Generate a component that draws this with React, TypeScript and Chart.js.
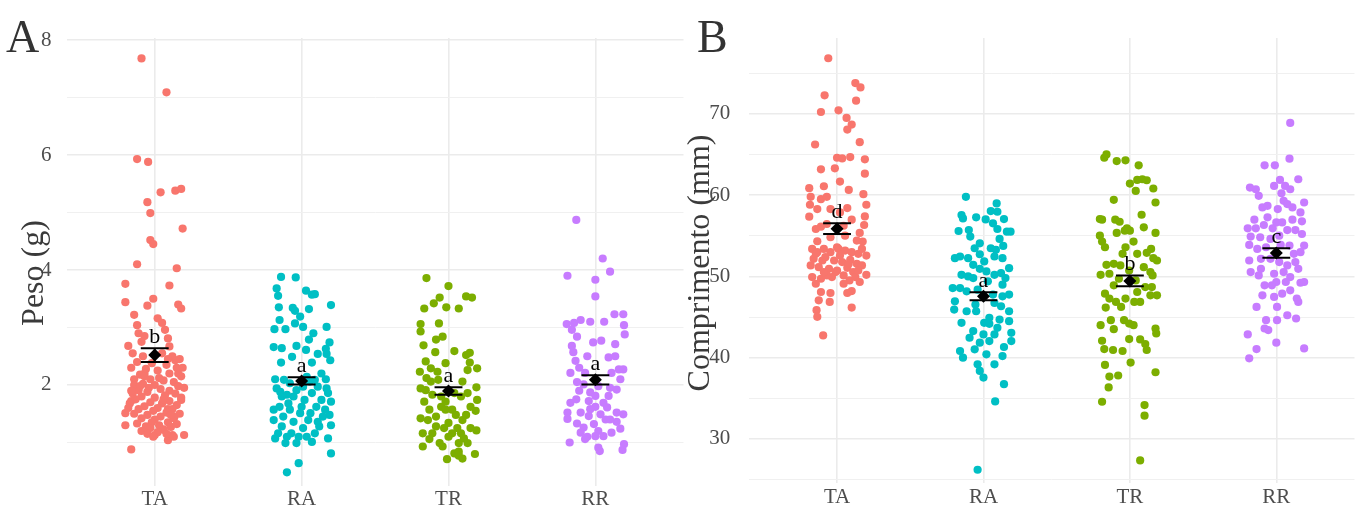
import React, { useEffect, useRef } from 'react';
import { Chart, registerables } from 'chart.js';
Chart.register(...registerables);

const FONT = "'Liberation Serif', 'Times New Roman', serif";
const CATEGORIES = ['TA', 'RA', 'TR', 'RR'];
const COLORS = ['#F8766D', '#00BFC4', '#7CAE00', '#C77CFF'];

// ---- Panel A: Peso (g) — [jitter, value]
const pesoTA = [
  [-0.09,7.68],[0.08,7.09],[-0.12,5.93],[-0.045,5.88],[0.04,5.35],[0.14,5.38],[0.18,5.41],[-0.05,5.18],[-0.03,4.99],[-0.03,4.52],
  [-0.01,4.45],[0.19,4.72],[-0.12,4.10],[0.15,4.03],[-0.2,3.76],[0.10,3.73],[-0.2,3.44],[-0.01,3.50],[-0.05,3.38],[0.16,3.40],
  [0.18,3.33],[-0.14,3.22],[-0.12,3.04],[0.02,3.16],[0.05,3.08],[-0.11,2.90],[-0.18,2.68],[-0.07,2.85],[0.07,2.96],[0.09,2.81],
  [0.10,2.67],[-0.09,2.75],[0.14,2.43],[0.16,2.20],[0.18,1.74],[-0.2,1.51],[-0.2,1.30],[-0.16,0.88],[0,1.13],[0.09,1.04],
  [0.12,1.13],[0.2,1.13],[0.06,1.23],[0.135,1.45],[0.09,1.58],[-0.16,1.72],[-0.11,1.91],[-0.07,2.20],
  [-0.15,2.55],[-0.08,2.5],[0.05,2.55],[0.12,2.5],[0.17,2.45],[-0.12,2.4],[-0.02,2.38],[0.08,2.35],[0.15,2.3],[-0.16,2.3],
  [-0.06,2.28],[0.02,2.25],[0.1,2.2],[-0.1,2.18],[0.18,2.15],[-0.14,2.1],[-0.03,2.1],[0.06,2.08],[0.13,2.05],[-0.08,2.02],
  [0.0,2.0],[0.16,1.98],[-0.12,1.95],[0.04,1.93],[0.1,1.9],[-0.05,1.88],[-0.15,1.85],[0.14,1.85],[0.07,1.82],[-0.09,1.8],
  [0.0,1.78],[0.18,1.78],[-0.13,1.75],[0.1,1.72],[-0.03,1.7],[0.05,1.68],[-0.17,1.68],[0.15,1.65],[-0.07,1.63],[0.02,1.6],
  [-0.11,1.58],[0.12,1.58],[-0.01,1.55],[0.08,1.52],[-0.14,1.5],[0.17,1.5],[-0.05,1.48],[0.04,1.45],[0.13,1.42],[-0.09,1.42],
  [0.0,1.4],[-0.02,1.35],[0.09,1.35],[-0.12,1.33],[0.15,1.32],[0.03,1.3],[-0.06,1.28],[0.11,1.27],[-0.03,1.25],[0.06,1.22],
  [-0.09,1.2],[0.02,1.18],[-0.05,1.15],[0.08,1.15],[-0.01,1.1],[0.13,1.1],[-0.14,2.0],[0.2,1.95],[-0.18,1.6],[0.19,2.3],
  [-0.07,2.15],[0.09,2.45],[-0.1,1.98],[0.06,1.75],[0.11,1.48],[-0.16,1.9],[-0.04,1.95],[0.03,2.12]
];
const pesoRA = [
  [-0.14,3.88],[-0.04,3.87],[-0.17,3.68],[-0.16,3.55],[0.03,3.64],[0.07,3.57],[0.09,3.58],[0.2,3.39],[-0.155,3.35],[-0.06,3.34],
  [-0.045,3.29],[0.05,3.32],[-0.15,3.13],[-0.185,2.97],[-0.11,2.97],[-0.045,3.07],[-0.01,3.19],[0.01,3.01],[0.17,3.01],[0.08,2.90],
  [0.05,2.79],[-0.19,2.66],[-0.135,2.64],[-0.035,2.68],[0.03,2.61],[0.19,2.74],[0.165,2.63],[0.11,2.54],[-0.14,2.39],[-0.065,2.49],
  [0.07,2.39],[0.195,2.43],[0.17,2.54],[-0.17,1.94],[-0.18,2.10],[-0.12,2.09],[0.135,2.20],[0.165,2.10],[0.18,1.86],[0.2,1.71],
  [0.19,1.48],[0.2,1.30],[0.18,1.07],[0.2,0.81],[-0.02,0.64],[-0.1,0.48],[-0.19,1.57],[-0.19,1.39],[-0.18,1.07],[-0.135,1.28],
  [-0.07,1.16],[0.07,1.01],[0.12,1.28],[0.01,1.25],[0.06,1.51],[0.1,1.62],[0.02,1.74],[-0.055,1.80],[-0.09,1.68],[-0.135,1.80],
  [-0.035,1.91],[0.07,1.86],[0.11,1.97],[-0.08,2.03],[0.055,2.06],[0.01,1.97],[-0.125,1.45],[-0.055,1.36],[-0.01,1.51],[0.045,1.39],
  [-0.1,1.10],[-0.02,1.10],[0.09,1.16],[0.145,1.45],[0.135,1.74],[-0.15,1.62],[0,1.62],[-0.08,1.57],[0.11,1.36],[-0.16,1.16],
  [-0.035,0.99],[0.035,2.14],[0.09,2.09],[-0.145,1.88],[-0.1,1.83],[0.17,1.94],[0.16,1.57],[0.035,1.10],[-0.11,0.99]
];
const pesoTR = [
  [-0.15,3.86],[0,3.72],[-0.06,3.52],[0.12,3.54],[0.16,3.52],[-0.10,3.42],[-0.165,3.33],[-0.015,3.35],[0.07,3.33],[-0.19,3.06],
  [-0.19,2.93],[-0.065,3.07],[-0.085,2.79],[-0.04,2.84],[-0.17,2.69],[-0.09,2.57],[0.04,2.59],[0.12,2.52],[0.145,2.56],[0.145,2.39],
  [-0.155,2.41],[-0.02,2.38],[0.195,2.29],[-0.195,2.23],[-0.12,2.29],[0.13,2.26],[-0.19,1.94],[0.19,1.96],[0.195,1.74],[0.185,1.55],
  [0.19,1.21],[0.18,0.80],[-0.01,0.71],[0.07,0.77],[0.095,0.72],[0.04,0.81],[-0.175,0.93],[-0.13,1.06],[-0.06,0.99],[0.07,0.99],
  [0.13,0.99],[-0.19,1.42],[-0.085,1.28],[0,1.34],[0.06,1.25],[0.15,1.25],[0.12,1.48],[0.025,1.57],[-0.05,1.62],[-0.13,1.57],
  [-0.165,1.71],[-0.11,1.83],[-0.05,1.80],[0.085,1.80],[0.13,1.86],[-0.12,2.06],[-0.15,2.12],[-0.07,2.09],[0.095,2.06],[0.04,1.86],
  [-0.02,1.71],[-0.085,1.45],[-0.03,1.25],[0.025,1.16],[0.085,1.16],[-0.14,1.39],[0.095,1.39],[0.05,1.48],[-0.11,1.16],[0,1.10],
  [-0.04,0.93],[0.07,0.84],[-0.155,1.91],[0.15,1.62],[-0.075,2.23],[-0.02,1.57],[0.105,1.07],[-0.175,1.16]
];
const pesoRR = [
  [-0.13,4.87],[0.05,4.20],[0.10,3.97],[-0.19,3.90],[0,3.83],[0,3.54],[0.13,3.23],[0.19,3.23],[0.195,3.04],[0.2,2.88],
  [-0.195,3.06],[-0.145,3.08],[-0.10,3.13],[-0.035,3.10],[0.06,3.10],[-0.16,2.96],[-0.125,2.84],[-0.015,2.74],[0.04,2.77],[0.135,2.71],
  [-0.15,2.57],[0.09,2.48],[0.135,2.50],[0.16,2.27],[-0.135,2.42],[-0.11,2.30],[0.17,2.10],[-0.17,2.21],[-0.125,2.05],[-0.08,2.01],
  [0.10,1.95],[0.145,1.92],[-0.035,1.87],[0.09,1.81],[0.055,1.69],[-0.045,1.72],[-0.17,1.69],[-0.13,1.75],[0,1.62],[-0.19,1.52],
  [-0.19,1.41],[-0.10,1.52],[-0.045,1.46],[0.035,1.49],[0.07,1.40],[0.145,1.52],[0.19,1.49],[0.145,1.36],[0.17,1.24],[-0.125,1.33],
  [-0.08,1.26],[-0.01,1.32],[0.02,1.20],[-0.10,1.17],[-0.055,1.10],[0,1.11],[0.055,1.11],[0.11,1.17],[-0.175,1.00],[0.02,0.91],
  [0.03,0.85],[0.185,0.87],[0.195,0.97],[-0.07,1.06],[0.08,1.61],[-0.11,1.90],[0,1.81],[-0.07,2.21],[0.19,2.27],[-0.16,2.68],
  [-0.055,2.50],[0.11,2.21],[0.02,1.98],[-0.035,1.58],[0.10,1.40]
];

// ---- Panel B: Comprimento (mm) — [jitter, value]
const compTA = [
  [-0.06,76.86],[0.125,73.80],[0.16,73.27],[-0.085,72.29],[0.13,71.63],[-0.11,70.24],[0.01,70.45],[0.065,69.51],[0.10,68.69],[0.07,68.08],
  [-0.15,66.24],[0.155,66.53],[0,64.61],[0.035,64.53],[0.09,64.69],[0.19,64.41],[-0.11,63.18],[-0.015,63.31],[0.19,62.65],[0.02,61.67],
  [-0.19,60.86],[-0.09,61.10],[0.08,60.65],[0.18,60.12],[-0.18,59.80],[-0.11,59.51],[-0.07,59.80],[0.20,58.82],[-0.185,58.82],[-0.135,58.29],
  [-0.045,58.29],[0.07,58.41],[-0.19,57.35],[0.19,57.39],[0.10,56.98],[0.185,56.33],[-0.11,56.12],[0.155,55.35],[0.055,55.02],[0.175,54.29],
  [-0.17,53.39],[-0.135,52.98],[-0.09,53.39],[-0.045,52.98],[0.01,53.39],[0.055,53.18],[0.10,52.98],[0.145,52.78],[0.20,52.57],[-0.16,52.16],
  [-0.10,51.96],[-0.02,51.96],[0.035,51.76],[0.09,52.04],[0.135,51.55],[-0.18,51.35],[-0.125,51.14],[-0.055,50.94],[0,50.73],[0.07,51.06],
  [0.11,50.53],[0.17,51.35],[-0.17,49.92],[-0.11,49.71],[-0.07,50.12],[-0.01,50.53],[0.045,50.12],[0.085,49.51],[0.20,50.20],[0.125,49.92],
  [0.145,50.73],[-0.11,48.08],[-0.045,47.96],[0.07,47.96],[0.10,48.20],[-0.125,47.06],[-0.05,46.86],[-0.14,45.84],[-0.135,45.02],[0.10,46.16],
  [-0.095,42.73],[-0.145,52.78],[-0.08,52.37],[0.02,52.57],[0.08,51.55],[-0.035,49.92],[-0.09,50.53],[0.17,53.39],[0,53.59],[-0.135,54.33],
  [-0.045,54.82],[-0.145,55.84],[-0.07,56.45],[0.045,56.24],[0.02,57.88],[0.135,54.41],[0.045,49.10],[-0.145,49.10],[0.155,49.31]
];
const compRA = [
  [-0.12,59.80],[0.09,58.98],[0.095,57.96],[0.05,58.04],[-0.15,57.55],[-0.14,57.14],[-0.05,57.27],[0.015,57.02],[0.14,57.06],[-0.17,55.59],
  [-0.10,55.71],[0.095,55.84],[0.16,55.51],[0.185,55.51],[-0.09,54.90],[0.11,54.61],[0.135,53.76],[-0.06,53.47],[0.05,53.47],[0.085,53.27],
  [-0.195,52.24],[-0.16,52.45],[-0.105,52.24],[-0.025,52.73],[0.075,52.45],[0.13,52.24],[0.175,51.02],[-0.025,50.94],[0.02,50.61],[-0.15,50.20],
  [-0.105,50.0],[-0.07,49.80],[0.075,50.20],[0.12,50.41],[0.15,49.80],[-0.21,48.57],[-0.16,48.57],[-0.115,48.16],[-0.04,48.37],[0.065,47.76],
  [0.13,47.55],[0.175,47.76],[-0.195,46.94],[-0.2,45.92],[-0.055,46.53],[-0.05,45.71],[0.075,46.73],[0.12,46.33],[0.04,44.90],[0.11,44.69],
  [0.175,44.49],[-0.15,44.29],[0.04,44.16],[0.095,43.67],[-0.07,43.27],[0,42.86],[0.19,43.06],[0.075,42.86],[0.19,42.04],[0.04,42.04],
  [-0.025,41.84],[0.14,41.31],[-0.06,41.02],[-0.16,40.82],[-0.14,40.0],[0.02,40.41],[0.075,39.18],[0.13,40.20],[-0.04,39.18],[-0.025,38.37],
  [0,37.55],[0.14,36.73],[0.08,34.61],[-0.04,26.20],[-0.115,45.71],[0.03,49.39],[0.13,48.98],[0.005,51.84],[-0.07,51.43],[0.065,56.53],
  [-0.025,54.08],[0.175,45.71],[0.005,44.29],[-0.095,42.45]
];
const compTR = [
  [-0.175,64.61],[-0.16,65.02],[-0.09,64.20],[-0.03,64.29],[0.06,63.67],[0,61.43],[0.05,61.88],[0.085,61.96],[0.115,61.84],[0.04,60.53],
  [0.16,60.82],[-0.11,59.43],[0.175,59.10],[0.08,57.59],[-0.205,57.06],[-0.19,56.98],[-0.10,56.98],[-0.07,56.73],[-0.02,55.92],[0,55.63],
  [0.175,55.35],[-0.205,55.02],[-0.19,54.29],[-0.17,53.59],[-0.09,55.35],[-0.03,53.59],[0.025,54.29],[0.145,53.39],[-0.05,52.78],[0.05,52.78],
  [0.115,52.90],[0.185,51.96],[0.16,52.24],[-0.16,51.43],[-0.11,51.55],[-0.14,50.33],[-0.2,50.20],[0.14,50.53],[0.155,50.12],[0.095,51.14],
  [0.105,48.69],[0.15,48.69],[0.185,47.67],[0.05,48.08],[-0.17,47.88],[-0.14,47.27],[-0.095,46.86],[-0.06,46.24],[-0.03,47.27],[0.03,46.86],
  [0.07,46.86],[-0.165,46.16],[-0.2,44.0],[-0.13,44.61],[-0.11,43.51],[-0.04,44.61],[-0.005,44.20],[0.025,44.0],[0.175,43.59],[0.18,42.98],
  [-0.19,42.08],[-0.175,41.06],[-0.115,40.94],[-0.05,40.82],[-0.005,42.29],[0.07,42.24],[0.105,41.67],[0.115,40.94],[-0.17,39.10],[0.005,39.39],
  [0.175,38.20],[-0.14,37.67],[-0.08,37.80],[-0.145,36.33],[-0.19,34.57],[0.1,34.16],[0.1,32.86],[0.07,27.35],[-0.075,49.71],[-0.005,50.73],
  [-0.11,48.90],[-0.065,51.35],[0.04,49.51],[0.14,47.67],[-0.035,55.63],[0.095,56.04]
];
const compRR = [
  [-0.08,63.67],[-0.01,63.67],[0.09,64.49],[0.15,61.96],[0.025,61.88],[-0.18,60.94],[-0.14,60.73],[0.06,61.14],[0.095,60.73],[-0.12,59.92],
  [0.035,60.24],[0.05,59.31],[0.19,59.10],[-0.095,58.49],[0.01,58.29],[0.11,58.49],[0.165,57.88],[-0.15,56.98],[-0.06,57.27],[0,56.65],
  [0.04,56.65],[0.11,56.98],[0.175,56.78],[-0.195,55.92],[-0.14,55.92],[-0.085,56.33],[-0.025,55.92],[0.075,55.71],[0.13,55.71],[-0.175,54.90],
  [-0.11,54.82],[0.175,55.22],[0.19,53.80],[-0.185,53.88],[-0.13,53.39],[-0.07,53.59],[0.03,53.88],[0.09,53.80],[0.12,52.78],[0.165,52.98],
  [-0.185,51.96],[-0.105,52.16],[-0.04,52.16],[0.02,51.76],[0.075,51.35],[0.13,51.76],[-0.175,50.53],[-0.12,50.12],[-0.015,50.33],[0.05,50.53],
  [0.095,49.92],[0.15,50.94],[-0.08,48.90],[0,49.31],[0.065,49.31],[0.165,49.22],[0.19,49.31],[-0.095,47.67],[-0.015,47.47],[0.04,47.88],
  [0.14,47.27],[0.15,46.86],[-0.135,46.24],[0.005,46.24],[0.075,45.22],[0.135,44.82],[-0.07,44.61],[0.005,44.61],[-0.08,43.59],[-0.055,43.39],
  [-0.195,42.86],[-0.135,41.06],[0,41.84],[0.19,41.14],[-0.185,39.92],[-0.04,54.61],[0.02,55.02],[-0.105,50.94],[-0.03,48.90],[0.095,48.29],
  [-0.06,58.69],[0.075,58.90],[-0.015,61.14],[0.095,68.9]
];

// ---- Summary: mean, standard error, letters
const pesoMeans = [2.52, 2.07, 1.895, 2.09];
const pesoSE = [0.12, 0.063, 0.067, 0.08];
const pesoLetters = ['b', 'a', 'a', 'a'];
const compMeans = [55.88, 47.55, 49.45, 52.88];
const compSE = [0.65, 0.49, 0.67, 0.59];
const compLetters = ['d', 'a', 'b', 'c'];

const pesoTicks = [1, 2, 3, 4, 5, 6, 7, 8];
const pesoLabeled = [2, 4, 6, 8];
const compTicks = [25, 30, 35, 40, 45, 50, 55, 60, 65, 70, 75];
const compLabeled = [30, 40, 50, 60, 70];

type PanelCfg = {
  groups: number[][][];
  means: number[];
  ses: number[];
  letters: string[];
  yMin: number; yMax: number;
  yTicks: number[]; yLabeled: number[];
  xMax: number;
  axisWidth: number;
  rightPad: number;
  labelPad: number;
  tag: string; tagX: number;
  title: string; titleX: number; titleY: number;
};

function buildChart(canvas: HTMLCanvasElement, cfg: PanelCfg) {
  const overlay = {
    id: 'overlay',
    afterDatasetsDraw(chart: any) {
      const ctx = chart.ctx;
      const xs = chart.scales.x, ys = chart.scales.y;
      ctx.save();
      ctx.strokeStyle = '#000';
      ctx.lineWidth = 2;
      cfg.means.forEach((m, i) => {
        const xc = xs.getPixelForValue(i + 1);
        const xl = xs.getPixelForValue(i + 1 - 0.095);
        const xr = xs.getPixelForValue(i + 1 + 0.095);
        const yt = ys.getPixelForValue(m + cfg.ses[i]);
        const yb = ys.getPixelForValue(m - cfg.ses[i]);
        ctx.beginPath();
        ctx.moveTo(xl, yt); ctx.lineTo(xr, yt);
        ctx.moveTo(xl, yb); ctx.lineTo(xr, yb);
        ctx.moveTo(xc, yt); ctx.lineTo(xc, yb);
        ctx.stroke();
        ctx.fillStyle = '#000';
        ctx.font = `22px ${FONT}`;
        ctx.textAlign = 'center';
        ctx.textBaseline = 'alphabetic';
        ctx.fillText(cfg.letters[i], xc, yt - 5);
      });
      ctx.restore();
    },
    afterDraw(chart: any) {
      const ctx = chart.ctx;
      ctx.save();
      ctx.fillStyle = '#333333';
      ctx.font = `46px ${FONT}`;
      ctx.textAlign = 'left';
      ctx.textBaseline = 'alphabetic';
      ctx.fillText(cfg.tag, cfg.tagX, 52);
      ctx.translate(cfg.titleX, cfg.titleY);
      ctx.rotate(-Math.PI / 2);
      ctx.font = `32px ${FONT}`;
      ctx.fillStyle = '#3a3a3a';
      ctx.textAlign = 'center';
      ctx.textBaseline = 'middle';
      ctx.fillText(cfg.title, 0, 0);
      ctx.restore();
    }
  };

  const datasets: any[] = cfg.groups.map((g, i) => ({
    data: g.map(([j, v]) => ({ x: i + 1 + j, y: v })),
    backgroundColor: COLORS[i],
    borderWidth: 0,
    pointRadius: 4.1,
    pointHoverRadius: 4.1,
    order: 2,
  }));
  datasets.push({
    data: cfg.means.map((m, i) => ({ x: i + 1, y: m })),
    pointStyle: 'rectRot',
    backgroundColor: '#000',
    borderWidth: 0,
    pointRadius: 6.5,
    pointHoverRadius: 6.5,
    order: 0,
  });

  return new Chart(canvas, {
    type: 'scatter',
    data: { datasets },
    options: {
      animation: false,
      responsive: false,
      maintainAspectRatio: false,
      events: [],
      layout: { padding: { top: 38, right: cfg.rightPad, left: 0, bottom: 0 } },
      plugins: { legend: { display: false }, tooltip: { enabled: false } },
      scales: {
        x: {
          type: 'linear',
          min: 0.4,
          max: cfg.xMax,
          afterBuildTicks: (s: any) => { s.ticks = [1, 2, 3, 4].map(v => ({ value: v })); },
          afterFit: (s: any) => { s.height = 29; },
          grid: { color: '#EBEBEB', lineWidth: 1.6, drawTicks: false },
          border: { display: false },
          ticks: {
            callback: (v: any) => CATEGORIES[Math.round(v) - 1] ?? '',
            font: { family: FONT, size: 21 },
            color: '#4D4D4D',
            padding: 1,
            maxRotation: 0,
            autoSkip: false,
          },
        },
        y: {
          type: 'linear',
          min: cfg.yMin,
          max: cfg.yMax,
          afterBuildTicks: (s: any) => { s.ticks = cfg.yTicks.map(v => ({ value: v })); },
          afterFit: (s: any) => { s.width = cfg.axisWidth; },
          grid: {
            color: (c: any) => (cfg.yLabeled.includes(c.tick?.value) ? '#EBEBEB' : '#F0F0F0'),
            lineWidth: (c: any) => (cfg.yLabeled.includes(c.tick?.value) ? 1.6 : 1),
            drawTicks: false,
          },
          border: { display: false },
          ticks: {
            callback: (v: any) => (cfg.yLabeled.includes(v) ? String(v) : ''),
            font: { family: FONT, size: 21 },
            color: '#4D4D4D',
            padding: cfg.labelPad,
            autoSkip: false,
          },
        },
      },
    },
    plugins: [overlay],
  });
}

export default function App() {
  const refA = useRef<HTMLCanvasElement>(null);
  const refB = useRef<HTMLCanvasElement>(null);

  useEffect(() => {
    const a = buildChart(refA.current!, {
      groups: [pesoTA, pesoRA, pesoTR, pesoRR],
      means: pesoMeans, ses: pesoSE, letters: pesoLetters,
      yMin: 0.243, yMax: 8.035,
      yTicks: pesoTicks, yLabeled: pesoLabeled,
      xMax: 4.6, axisWidth: 66.6, rightPad: 4.6, labelPad: 15,
      tag: 'A', tagX: 6,
      title: 'Peso (g)', titleX: 35, titleY: 273,
    });
    const b = buildChart(refB.current!, {
      groups: [compTA, compRA, compTR, compRR],
      means: compMeans, ses: compSE, letters: compLetters,
      yMin: 24.52, yMax: 79.35,
      yTicks: compTicks, yLabeled: compLabeled,
      xMax: 4.534, axisWidth: 73.2, rightPad: 0, labelPad: 19,
      tag: 'B', tagX: 21,
      title: 'Comprimento (mm)', titleX: 25, titleY: 263,
    });
    return () => { a.destroy(); b.destroy(); };
  }, []);

  return (
    <div style={{ position: 'absolute', left: 0, top: 0, width: 1361, height: 515, background: '#fff', overflow: 'hidden' }}>
      <canvas ref={refA} width={690} height={515} style={{ position: 'absolute', left: 0, top: 0, width: 690, height: 515 }} />
      <canvas ref={refB} width={685} height={515} style={{ position: 'absolute', left: 676, top: 0, width: 685, height: 515 }} />
    </div>
  );
}
